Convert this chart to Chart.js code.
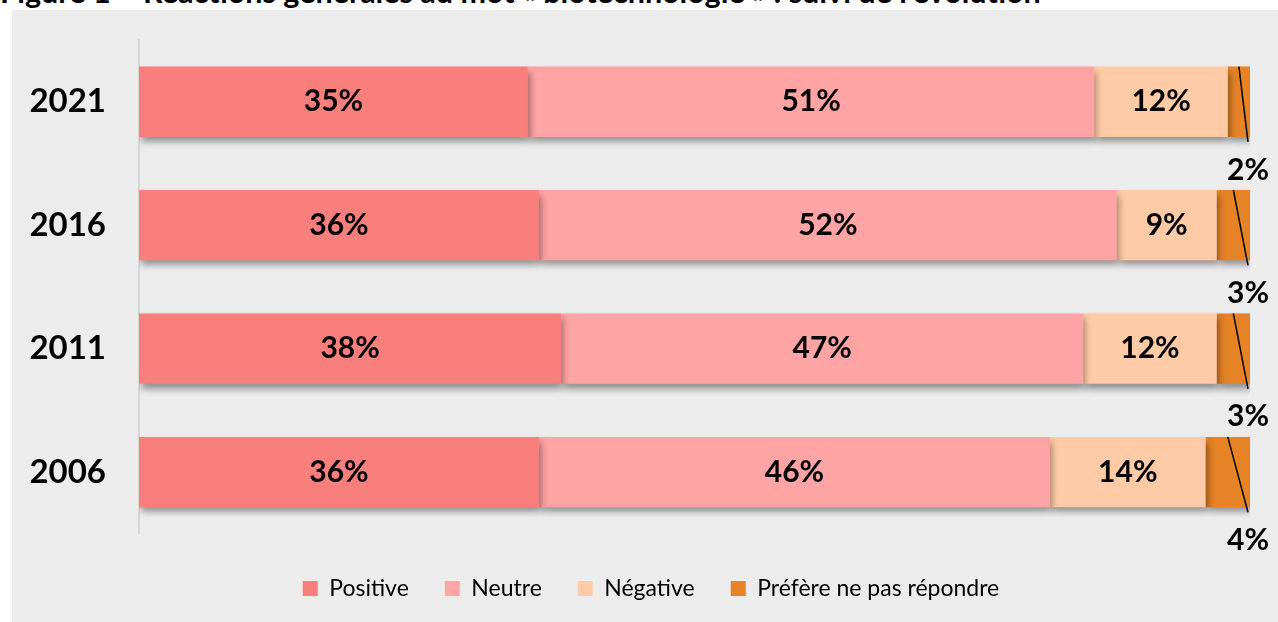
<!DOCTYPE html>
<html>
<head>
<meta charset="utf-8">
<script src="https://cdn.jsdelivr.net/npm/chart.js@4/dist/chart.umd.min.js"></script>
<style>
  body { margin: 0; background: #fff; width: 1278px; height: 622px; overflow: hidden; position: relative; }
  #title { position: absolute; left: 0; top: -27px; font: bold 30.5px Lato, sans-serif; color: #000; white-space: nowrap; }
  #panel { position: absolute; left: 12px; top: 10px; width: 1266px; height: 612px; background: #ececec; }
</style>
</head>
<body>
<div id="title">Figure 1 – Réactions générales au mot « biotechnologie » : suivi de l'évolution</div>
<div id="panel"><canvas id="myChart" width="1266" height="612"></canvas></div>
<script>
// data
var years = ['2021', '2016', '2011', '2006'];
var positive = [35, 36, 38, 36];
var neutre = [51, 52, 47, 46];
var negative = [12, 9, 12, 14];
var nsp = [2, 3, 3, 4];
var seriesNames = ['Positive', 'Neutre', 'Négative', 'Préfère ne pas répondre'];

var colors = ['#f87f7c', '#ffa4a4', '#ffcba6', '#e68327'];

// shadow under the bars
var barShadow = {
  id: 'barShadow',
  beforeDatasetsDraw: function(chart) {
    var c = chart.ctx;
    c.save();
    c.shadowColor = 'rgba(0,0,0,0.4)';
    c.shadowBlur = 7;
    c.shadowOffsetX = 2;
    c.shadowOffsetY = 5;
  },
  afterDatasetsDraw: function(chart) {
    chart.ctx.restore();
  }
};

// move legend a bit to the right (centered on the panel, not the plot)
var legendShift = {
  id: 'legendShift',
  afterLayout: function(chart) {
    chart.legend.left += 20;
    chart.legend.right += 20;
  }
};

// value labels
var valueLabels = {
  id: 'valueLabels',
  afterDraw: function(chart) {
    var c = chart.ctx;
    c.save();
    c.font = 'bold 30px Lato, sans-serif';
    c.fillStyle = '#000';
    c.textAlign = 'center';
    c.textBaseline = 'middle';
    chart.data.datasets.forEach(function(ds, di) {
      var meta = chart.getDatasetMeta(di);
      meta.data.forEach(function(bar, i) {
        var txt = ds.data[i] + '%';
        var top = bar.y - bar.height / 2;
        var bottom = bar.y + bar.height / 2;
        if (di < 3) {
          c.fillText(txt, (bar.x + bar.base) / 2, bar.y);
        } else {
          // small slice: leader line and label under the bar
          var endX = chart.chartArea.right - 2;
          c.strokeStyle = '#000';
          c.lineWidth = 1.5;
          c.beginPath();
          c.moveTo((bar.x + bar.base) / 2, top);
          c.lineTo(endX, bottom + 5);
          c.stroke();
          c.fillText(txt, endX, bottom + 33);
        }
      });
    });
    c.restore();
  }
};

var ctx = document.getElementById('myChart').getContext('2d');
var myChart = new Chart(ctx, {
  type: 'bar',
  data: {
    labels: years,
    datasets: [
      { label: seriesNames[0], data: positive, backgroundColor: colors[0] },
      { label: seriesNames[1], data: neutre, backgroundColor: colors[1] },
      { label: seriesNames[2], data: negative, backgroundColor: colors[2] },
      { label: seriesNames[3], data: nsp, backgroundColor: colors[3] }
    ]
  },
  options: {
    indexAxis: 'y',
    responsive: false,
    animation: false,
    datasets: {
      bar: { categoryPercentage: 1, barPercentage: 0.57 }
    },
    layout: { padding: { top: 30, right: 28, bottom: 12, left: 0 } },
    scales: {
      x: { stacked: true, min: 0, max: 100, display: false },
      y: {
        stacked: true,
        afterFit: function(scale) {
          scale.width = 127;
          scale.paddingTop = 0;
          scale.paddingBottom = 0;
        },
        grid: { display: false, drawTicks: false },
        border: { display: true, color: '#d6d6d6', width: 2 },
        ticks: { color: '#000', padding: 33, font: { family: 'Lato', size: 33, weight: 'bold' } }
      }
    },
    plugins: {
      tooltip: { enabled: false },
      // empty subtitle used as a gap between bars and legend
      subtitle: {
        display: true,
        position: 'bottom',
        weight: 500,
        text: '',
        font: { size: 1 },
        padding: { top: 6, bottom: 0 }
      },
      legend: {
        position: 'bottom',
        labels: {
          color: '#000',
          boxWidth: 15,
          boxHeight: 15,
          padding: 36,
          font: { family: 'Lato', size: 23 }
        }
      }
    }
  },
  plugins: [barShadow, legendShift, valueLabels]
});
</script>
</body>
</html>
